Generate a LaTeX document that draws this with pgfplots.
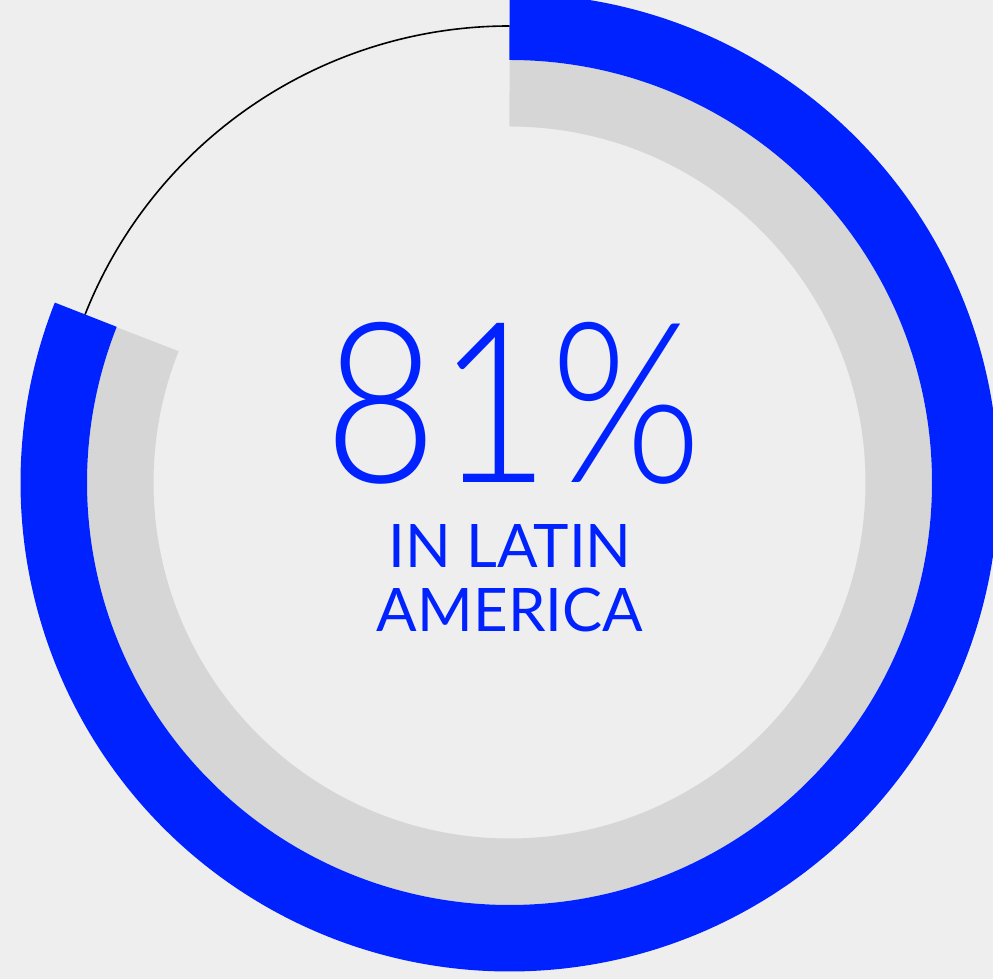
\documentclass[border=0pt]{standalone}
\usepackage{pgfplots}
\pgfplotsset{compat=1.18}
\usepackage{fontspec}
\newfontfamily\lightfont{Lato}[UprightFont={* Light}]
\newfontfamily\regfont{Lato}
\definecolor{bgcol}{HTML}{EEEEEE}
\definecolor{ringblue}{HTML}{0022FF}
\definecolor{ringgray}{HTML}{D6D6D6}
\def\pct{81}
\begin{document}
\begin{tikzpicture}
\begin{axis}[
  x=0.5pt, y=0.5pt,
  xmin=-509.5, xmax=483.5, ymin=-496.5, ymax=482.5,
  hide axis, clip=true,
]
\pgfmathsetmacro{\endang}{90-3.6*\pct}
\fill[bgcol] (rel axis cs:0,0) rectangle (rel axis cs:1,1);
% grey track
\draw[ringgray, line width=33.25pt] (axis cs:0,0) ++(90:194.625pt)
  arc[start angle=90, end angle=\endang, radius=194.625pt];
% blue value arc
\draw[ringblue, line width=33.25pt] (axis cs:0,0) ++(90:227.875pt)
  arc[start angle=90, end angle=\endang, radius=227.875pt];
% thin remainder
\draw[black, line width=0.8pt] (axis cs:0,0) ++(90:228.25pt)
  arc[start angle=90, end angle=\endang+360, radius=228.25pt];
\node[anchor=base, text=ringblue, font=\lightfont\fontsize{112}{112}\selectfont, inner sep=0pt, text depth=0pt] at (axis cs:4,0) {\scalebox{0.87}[1]{\pct\%}};
\node[anchor=base, text=ringblue, font=\regfont\fontsize{30}{30}\selectfont, inner sep=0pt, text height=21pt, text depth=0pt] at (axis cs:0.5,-85.5) {IN LATIN};
\node[anchor=base, text=ringblue, font=\regfont\fontsize{30}{30}\selectfont, inner sep=0pt, text height=21pt, text depth=0pt] at (axis cs:0.5,-149.5) {AMERICA};
\end{axis}
\pgfresetboundingbox
\path[use as bounding box] (current axis.south west) rectangle (current axis.north east);
\end{tikzpicture}
\end{document}
